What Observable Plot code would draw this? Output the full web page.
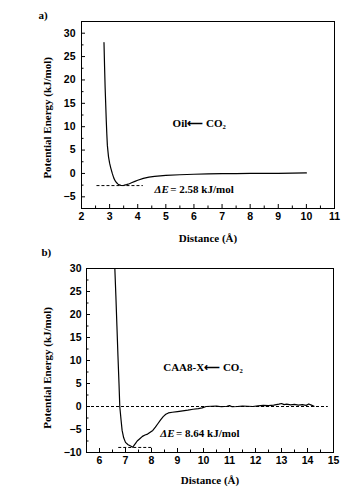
<!DOCTYPE html>
<html>
<head>
<meta charset="utf-8">
<script src="https://cdn.jsdelivr.net/npm/d3@7"></script>
<script src="https://cdn.jsdelivr.net/npm/@observablehq/plot@0.6"></script>
<style>
  html, body { margin: 0; padding: 0; background: white; }
  #chart svg { display: block; }
</style>
</head>
<body>
<div id="chart"></div>
<script>
// ---------- Panel a data (Oil <- CO2) ----------
const distA = [2.80, 2.82, 2.84, 2.86, 2.88, 2.90, 2.92, 2.96, 3.00, 3.04, 3.10, 3.15, 3.20, 3.25, 3.30, 3.35, 3.40, 3.45, 3.50, 3.60, 3.70, 3.80, 3.90, 4.00, 4.20, 4.40, 4.60, 4.80, 5.00, 5.50, 6.00, 6.50, 7.00, 7.50, 8.00, 9.00, 10.00];
const energyA = [28, 23, 18.5, 15, 11.5, 8.5, 6.0, 3.6, 2.2, 1.2, -0.1, -1.0, -1.6, -2.0, -2.3, -2.45, -2.55, -2.58, -2.55, -2.4, -2.2, -1.95, -1.7, -1.45, -1.05, -0.78, -0.62, -0.52, -0.43, -0.28, -0.17, -0.1, -0.05, -0.02, 0, 0.03, 0.1];
const minLineA = { x1: 2.55, x2: 4.2, y: -2.6 };
const xTicksA = [2, 3, 4, 5, 6, 7, 8, 9, 10, 11];
const xMinorA = [2.5, 3.5, 4.5, 5.5, 6.5, 7.5, 8.5, 9.5, 10.5];
const yTicksA = [-5, 0, 5, 10, 15, 20, 25, 30];
const yMinorA = [-2.5, 2.5, 7.5, 12.5, 17.5, 22.5, 27.5];
const labelA = "Oil⟵ CO₂";
const deltaA = " = 2.58 kJ/mol";

// ---------- Panel b data (CAA8-X <- CO2) ----------
const distB = [6.59, 6.63, 6.67, 6.71, 6.75, 6.78, 6.83, 6.87, 6.93, 7.00, 7.10, 7.20, 7.28, 7.35, 7.40, 7.45, 7.55, 7.65, 7.75, 7.85, 7.95, 8.05, 8.15, 8.25, 8.35, 8.45, 8.55, 8.65, 8.80, 9.00, 9.20, 9.40, 9.60, 9.80, 9.95, 10.10, 10.30, 10.50, 10.70, 10.90, 11.00, 11.10, 11.30, 11.50, 11.70, 11.90, 12.10, 12.30, 12.50, 12.70, 12.90, 13.00, 13.10, 13.20, 13.35, 13.50, 13.65, 13.80, 13.95, 14.05, 14.15, 14.25];
const energyB = [30, 24, 17.5, 11, 5, 0, -3.0, -5.2, -6.8, -7.8, -8.3, -8.6, -8.85, -8.3, -7.9, -7.5, -7.0, -6.5, -6.2, -6.0, -5.6, -5.2, -4.5, -3.7, -2.9, -2.2, -1.7, -1.4, -1.25, -1.1, -0.95, -0.8, -0.6, -0.45, -0.3, 0, 0.05, 0.1, -0.05, 0.05, 0.2, -0.05, 0, 0.1, 0.05, 0, 0.15, 0.25, 0.2, 0.3, 0.5, 0.65, 0.4, 0.5, 0.35, 0.45, 0.3, 0.4, 0.25, 0.55, 0.3, 0.05];
const zeroLineB = { x1: 5.5, x2: 14.8, y: 0 };
const minLineB = { x1: 6.74, x2: 8.02, y: -8.9 };
const xTicksB = [6, 7, 8, 9, 10, 11, 12, 13, 14, 15];
const xMinorB = [6.5, 7.5, 8.5, 9.5, 10.5, 11.5, 12.5, 13.5, 14.5];
const yTicksB = [-10, -5, 0, 5, 10, 15, 20, 25, 30];
const yMinorB = [-7.5, -2.5, 2.5, 7.5, 12.5, 17.5, 22.5, 27.5];
const labelB = "CAA8-X⟵ CO₂";
const deltaB = " = 8.64 kJ/mol";

const xTitle = "Distance (Å)";
const yTitle = "Potential Energy (kJ/mol)";
const deltaSym = "ΔE";

const serif = "'Liberation Serif', 'Times New Roman', serif";
const sans = "'Liberation Sans', Arial, sans-serif";

function panel(o) {
  const plotH = o.height - o.mt - o.mb;
  const rows = o.xs.map((x, i) => ({x, y: o.ys[i]}));
  return Plot.plot({
    width: 364,
    height: o.height,
    marginLeft: o.ml, marginRight: o.mr, marginTop: o.mt, marginBottom: o.mb,
    style: {fontFamily: sans, fontSize: "10.5px", fontWeight: "bold", background: "transparent"},
    x: {domain: o.xDomain},
    y: {domain: o.yDomain},
    marks: [
      ...o.dashes.map(d => Plot.ruleY([d], {y: "y", x1: "x1", x2: "x2", stroke: "black", strokeWidth: 1, strokeDasharray: "3,2"})),
      Plot.line(rows, {x: "x", y: "y", stroke: "black", strokeWidth: 1.2, curve: "linear"}),
      Plot.ruleX(o.xTicks, {x: d => d, insetTop: plotH - 4, stroke: "black"}),
      Plot.ruleX(o.xMinor, {x: d => d, insetTop: plotH - 2.5, stroke: "black"}),
      Plot.ruleY(o.yTicks, {y: d => d, insetRight: 364 - o.ml - o.mr - 4, stroke: "black"}),
      Plot.ruleY(o.yMinor, {y: d => d, insetRight: 364 - o.ml - o.mr - 2.5, stroke: "black"}),
      Plot.axisX(o.xTicks, {tickSize: 0, tickPadding: 4, fontSize: 10.5, fontWeight: "bold", fontFamily: sans, label: null}),
      Plot.axisY(o.yTicks, {tickSize: 0, tickPadding: o.yPad, fontSize: 10.5, fontWeight: "bold", fontFamily: sans, label: null}),
      Plot.frame({stroke: "black", strokeWidth: 1}),
      Plot.text([o.label], {x: o.labelPos[0], y: o.labelPos[1], text: d => d, textAnchor: "start", fontFamily: serif, fontSize: 11, fontWeight: "bold"}),
      Plot.text([deltaSym], {x: o.deltaPos[0], y: o.deltaPos[1], text: d => d, textAnchor: "start", fontFamily: serif, fontSize: 11, fontWeight: "bold", fontStyle: "italic"}),
      Plot.text([o.delta], {x: o.deltaPos[0], y: o.deltaPos[1], dx: 13, text: d => d, textAnchor: "start", fontFamily: serif, fontSize: 11, fontWeight: "bold"}),
      Plot.text([xTitle], {frameAnchor: "bottom", dy: o.xTitleDy, lineAnchor: "middle", textAnchor: "middle", text: d => d, fontFamily: serif, fontSize: 11, fontWeight: "bold"}),
      Plot.text([yTitle], {y: () => o.yTitleAt, frameAnchor: "left", dx: o.yTitleDx, rotate: -90, textAnchor: "middle", lineAnchor: "middle", text: d => d, fontFamily: serif, fontSize: 11, fontWeight: "bold"}),
      Plot.text([o.tag], {frameAnchor: "top-left", dx: o.tagDx, dy: o.tagDy, textAnchor: "start", lineAnchor: "middle", text: d => d, fontFamily: serif, fontSize: 11, fontWeight: "bold"})
    ]
  });
}

const a = panel({
  height: 244, ml: 81, mr: 30, mt: 21, mb: 36,
  xs: distA, ys: energyA,
  xDomain: [2, 11], yDomain: [-7.5, 32.5],
  xTicks: xTicksA, xMinor: xMinorA, yTicks: yTicksA, yMinor: yMinorA,
  dashes: [minLineA], yPad: 6,
  label: labelA, labelPos: [5.24, 10.6],
  delta: deltaA, deltaPos: [4.6, -3.35],
  xTitleDy: 30, yTitleDx: -34, yTitleAt: 11.9,
  tag: "a)", tagDx: -43, tagDy: -6
});
const b = panel({
  height: 245, ml: 86, mr: 31, mt: 24, mb: 37,
  xs: distB, ys: energyB,
  xDomain: [5.5, 15], yDomain: [-10, 30],
  xTicks: xTicksB, xMinor: xMinorB, yTicks: yTicksB, yMinor: yMinorB,
  dashes: [zeroLineB, minLineB], yPad: 5,
  label: labelB, labelPos: [8.45, 8.4],
  delta: deltaB, deltaPos: [8.34, -5.8],
  xTitleDy: 28, yTitleDx: -39, yTitleAt: 8.4,
  tag: "b)", tagDx: -45, tagDy: -16
});
document.getElementById("chart").append(a, b);
</script>
</body>
</html>
